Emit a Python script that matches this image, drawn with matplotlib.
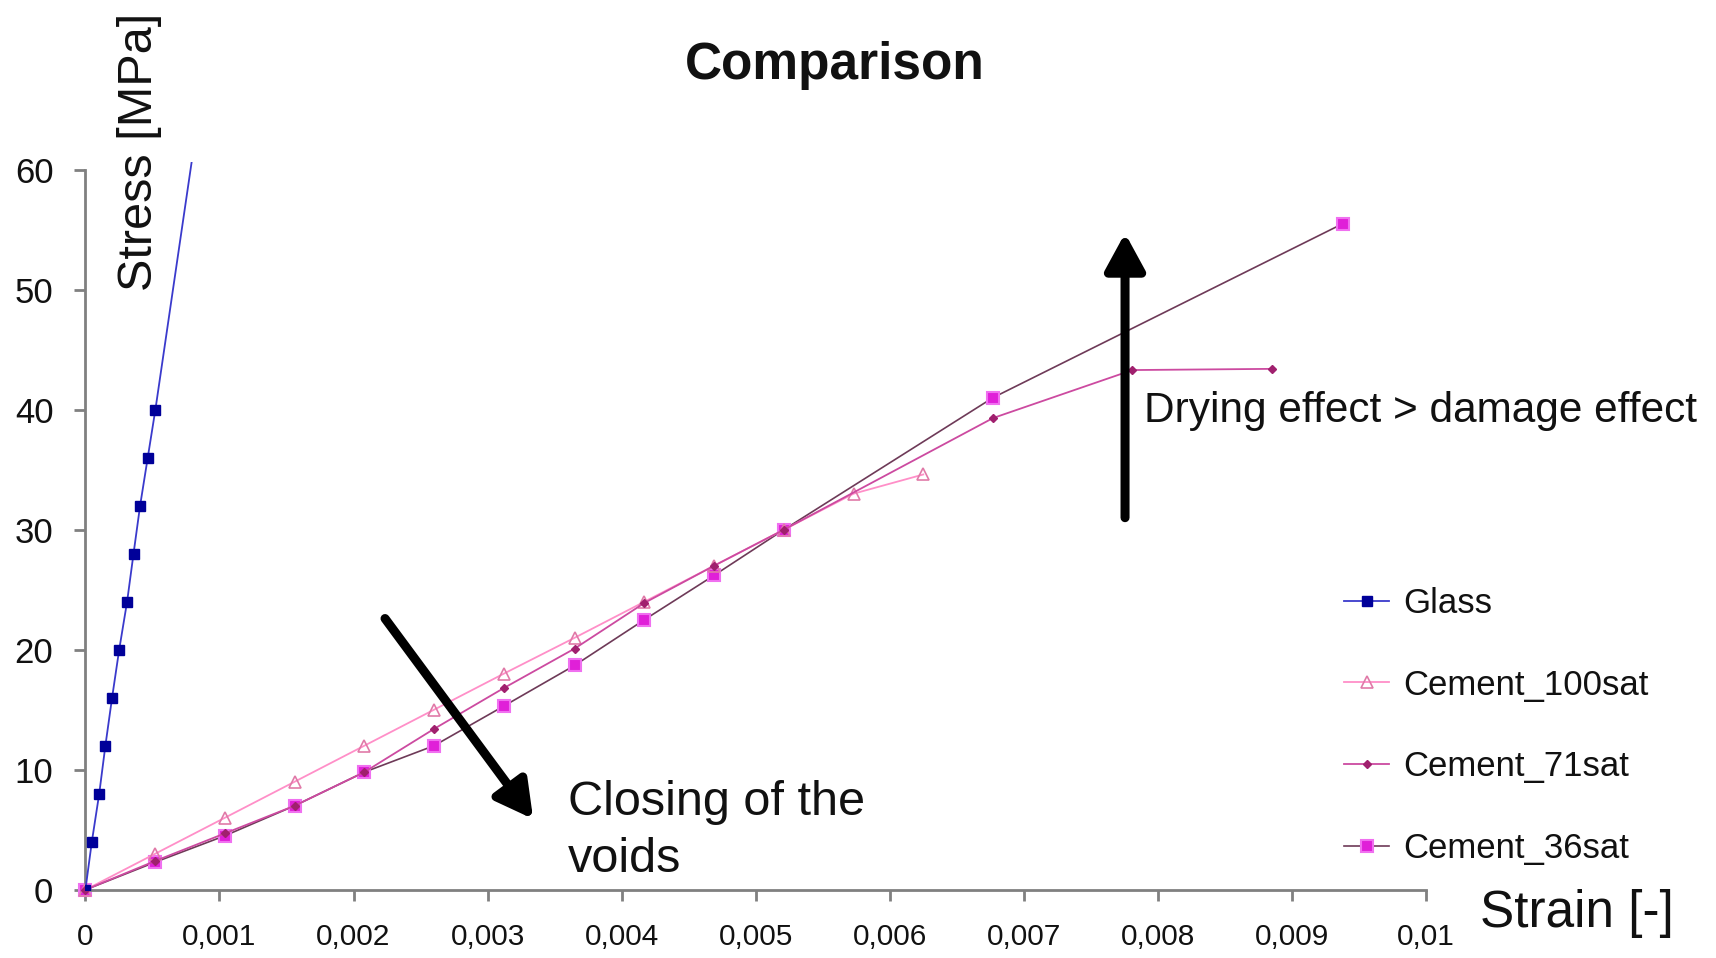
import matplotlib
matplotlib.use('Agg')
import matplotlib.pyplot as plt
from matplotlib import font_manager
from matplotlib.ticker import FixedLocator, FixedFormatter

names = {f.name for f in font_manager.fontManager.ttflist}
BASE = 'Liberation Sans' if 'Liberation Sans' in names else 'DejaVu Sans'
HAS_NARROW = 'Liberation Sans Narrow' in names
NARROW = 'Liberation Sans Narrow' if HAS_NARROW else BASE
plt.rcParams['font.family'] = [BASE, 'DejaVu Sans']

# ---------------- data ----------------
series_names = ['Glass', 'Cement_100sat', 'Cement_71sat', 'Cement_36sat']

glass_strain = [0, 0.000048, 0.000103, 0.000149, 0.000199, 0.000252, 0.000311,
                0.000359, 0.000408, 0.000465, 0.000522, 0.0008]
glass_stress = [0, 4, 8, 12, 16, 20, 24, 28, 32, 36, 40, 61.2]

c100_strain = [0, 0.00052, 0.00104, 0.00156, 0.00208, 0.0026, 0.00312, 0.00365,
               0.00417, 0.00469, 0.00521, 0.00573, 0.00625]
c100_stress = [0, 3, 6, 9, 12, 15, 18, 21, 24, 27, 30, 33, 34.6]

c71_strain = [0, 0.00052, 0.00104, 0.00156, 0.00208, 0.0026, 0.00312, 0.00365,
              0.00417, 0.00469, 0.00521, 0.00677, 0.00781, 0.00885]
c71_stress = [0, 2.4, 4.7, 7.0, 9.8, 13.4, 16.8, 20.1, 23.9, 27.0, 30.0, 39.3, 43.3, 43.4]

c36_strain = [0, 0.00052, 0.00104, 0.00156, 0.00208, 0.0026, 0.00312, 0.00365,
              0.00417, 0.00469, 0.00521, 0.00677, 0.00938]
c36_stress = [0, 2.3, 4.5, 7.0, 9.8, 12.0, 15.3, 18.7, 22.5, 26.2, 30.0, 41.0, 55.5]

x_ticks = [0, 0.001, 0.002, 0.003, 0.004, 0.005, 0.006, 0.007, 0.008, 0.009, 0.01]
x_labels = ['0', '0,001', '0,002', '0,003', '0,004', '0,005', '0,006', '0,007',
            '0,008', '0,009', '0,01']
y_ticks = [0, 10, 20, 30, 40, 50, 60]
y_labels = ['0', '10', '20', '30', '40', '50', '60']

# ---------------- figure ----------------
W, H = 1716, 958
fig = plt.figure(figsize=(W / 100, H / 100), dpi=100)
ax = fig.add_axes([85.4 / W, 1 - 889.8 / H, (1426 - 85.4) / W, (889.8 - 162.4) / H])
ax.set_xlim(0, 0.01)
ax.set_ylim(0, 60.6)

ax.plot(glass_strain, glass_stress, color='#3a3acc', lw=1.3, marker='s', ms=7,
        mfc='#000099', mec='#000099', markevery=list(range(len(glass_strain) - 1)),
        label=series_names[0], zorder=4)
ax.plot(c100_strain, c100_stress, color='#ff8fc8', lw=1.3, marker='^', ms=8,
        mfc='none', mec='#e07aa8', mew=1.2, label=series_names[1], zorder=3,
        clip_on=False)
ax.plot(c71_strain, c71_stress, color='#cc4aa0', lw=1.3, marker='D', ms=4.5,
        mfc='#a0206e', mec='#a0206e', label=series_names[2], zorder=3,
        clip_on=False)
ax.plot(c36_strain, c36_stress, color='#6e3a58', lw=1.2, marker='s', ms=8,
        mfc='#e020d8', mec='#f070f0', mew=1.5, label=series_names[3], zorder=2,
        clip_on=False)

for s in ['top', 'right']:
    ax.spines[s].set_visible(False)
for s in ['left', 'bottom']:
    ax.spines[s].set_color('#808080')
    ax.spines[s].set_linewidth(2)
ax.spines['left'].set_bounds(0, 60)

ax.xaxis.set_major_locator(FixedLocator(x_ticks))
ax.xaxis.set_major_formatter(FixedFormatter(x_labels))
ax.yaxis.set_major_locator(FixedLocator(y_ticks))
ax.yaxis.set_major_formatter(FixedFormatter(y_labels))
ax.tick_params(axis='x', direction='out', length=8, width=2, color='#808080',
               pad=16, labelsize=25 if HAS_NARROW else 21.5, labelcolor='#111111')
ax.tick_params(axis='y', direction='out', length=8, width=2, color='#808080',
               pad=15, labelsize=25, labelcolor='#111111')
for lab in ax.get_xticklabels():
    lab.set_family([NARROW, 'DejaVu Sans'])
for lab in ax.get_yticklabels():
    lab.set_family([BASE, 'DejaVu Sans'])

# titles / axis labels
fig.text(835 / W, 1 - 65.5 / H, 'Comparison', ha='center', va='center',
         fontsize=37, fontweight='bold', color='#111111')
fig.text(1480 / W, 1 - 914 / H, 'Strain [-]', ha='left', va='center',
         fontsize=37, color='#111111')
fig.text(140 / W, 1 - 152 / H, 'Stress [MPa]', ha='center', va='center',
         rotation=90, fontsize=35, color='#111111')

# annotations
ax.annotate('', xy=(0.00334, 5.9), xytext=(0.002235, 22.6),
            arrowprops=dict(arrowstyle='-|>,head_length=1.1,head_width=0.6',
                            mutation_scale=20, lw=6.5, color='black',
                            shrinkA=0, shrinkB=0), zorder=6)
ax.annotate('', xy=(0.007755, 54.7), xytext=(0.007755, 31.0),
            arrowprops=dict(arrowstyle='-|>,head_length=1.1,head_width=0.6',
                            mutation_scale=20, lw=6.5, color='black',
                            shrinkA=0, shrinkB=0), zorder=6)
ax.text(0.0036, 4.9, 'Closing of the\nvoids', ha='left', va='center',
        fontsize=35, color='#111111', linespacing=1.35, clip_on=False)
ax.text(0.0079, 39.9, 'Drying effect > damage effect', ha='left', va='center',
        fontsize=30.5, color='#111111', clip_on=False)

# legend
leg_size = 28 if HAS_NARROW else 25
leg = ax.legend(loc='upper left', bbox_to_anchor=(1344 / W, 1 - 587 / H),
                bbox_transform=fig.transFigure, frameon=False, borderpad=0,
                borderaxespad=0, handlelength=1.3, handletextpad=0.4,
                labelspacing=1.40, prop={'family': [NARROW, 'DejaVu Sans'],
                                         'size': leg_size})
for t in leg.get_texts():
    t.set_color('#111111')

fig.savefig('out.png', dpi=100, facecolor='white')
